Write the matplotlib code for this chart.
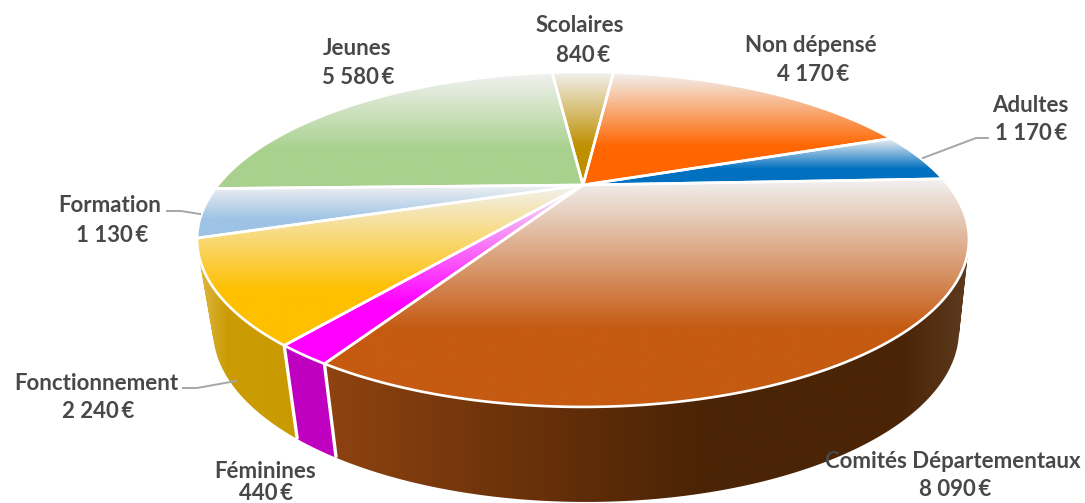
import numpy as np
import matplotlib
matplotlib.use("Agg")
import matplotlib.pyplot as plt
from matplotlib.path import Path
from matplotlib.patches import PathPatch
from matplotlib.colors import LinearSegmentedColormap, to_rgb

# ---- data (clockwise from the right-hand edge of the pie) ----
categories = ["Comités Départementaux", "Féminines", "Fonctionnement", "Formation",
              "Jeunes", "Scolaires", "Non dépensé", "Adultes"]
values = [8090, 440, 2240, 1130, 5580, 840, 4170, 1170]
colors = ["#C55A11", "#FF00FF", "#FFC000", "#9DC3E6",
          "#A9D18E", "#BF9000", "#FF6600", "#0070C0"]

# ---- wall shading, horizontal stops (x pixel, colour), None = wall hidden ----
wall_stops = [
    [(325, "#8F4310"), (600, "#5C2B08"), (700, "#4B2406"), (900, "#4B2406"), (970, "#5E3C20")],
    [(285, "#C000C0"), (340, "#C000C0")],
    [(197, "#E0BC50"), (228, "#CC9C05"), (300, "#C99A00")],
    None, None, None, None, None,
]

# ---- label placement: name centre, value centre (px) ----
name_xy = [(953, 461), (265, 472), (96, 383), (110, 206), (357, 48), (580, 25), (811, 45), (1030, 105)]
value_xy = [(955, 489), (266, 494), (98, 412), (112, 235), (358, 77), (583, 55), (813, 74), (1031, 134)]
leaders = {
    "Adultes": [(923, 158), (976, 138), (988, 138)],
    "Formation": [(167, 211), (181, 211), (200, 214)],
    "Fonctionnement": [(183, 388), (197, 388), (236, 381)],
}

# ---- projection of the disc ----
CX, CY = 583.0, 185.0
A, B, K = 365.0, 149.8, 0.325
START = 2.4
# top rim ellipse centre/radii -> bottom rim ellipse centre/radii
TOPC = (583.0, 238.0)
BOTC = (586.0, 329.0)
SX, SY = 373.0 / 386.0, 172.0 / 168.0


def top(theta):
    t = np.radians(theta)
    u, v = np.cos(t), np.sin(t)
    d = 1 + K * v
    return CX + A * u / d, CY - B * v / d


def bottom(theta):
    x, y = top(theta)
    return BOTC[0] + SX * (x - TOPC[0]), BOTC[1] + SY * (y - TOPC[1])


def gradient_image(ax, clip, cmap, extent, vertical=True):
    g = np.linspace(0, 1, 512)
    data = g[:, None] if vertical else g[None, :]
    im = ax.imshow(data, cmap=cmap, extent=extent, origin="upper", aspect="auto",
                   interpolation="bilinear", vmin=0, vmax=1, zorder=2)
    im.set_clip_path(clip)
    return im


def ramp(color):
    base = np.array(to_rgb(color))
    pale = np.array(to_rgb("#F2F2F2"))
    return LinearSegmentedColormap.from_list(
        "r", [(0, pale), (0.66, base), (1, base)], N=256)


fig = plt.figure(figsize=(10.85, 5.03), dpi=100, facecolor="white")
ax = fig.add_axes([0, 0, 1, 1])
ax.axis("off")

sweeps = np.array(values, dtype=float) / sum(values) * 360.0
ends = START - np.cumsum(sweeps)
starts = ends + sweeps

# walls
for th0, th1, stops in zip(starts, ends, wall_stops):
    if stops is None:
        continue
    ths = np.linspace(th0, th1, max(int(th0 - th1) * 2, 4))
    verts, codes = [], []
    for a, b in zip(ths[:-1], ths[1:]):
        q = np.array([top(a), top(b), bottom(b), bottom(a)])
        area = 0.5 * np.sum(q[:, 0] * np.roll(q[:, 1], -1) - np.roll(q[:, 0], -1) * q[:, 1])
        if area < 0:
            q = q[::-1]
        verts += list(map(tuple, q)) + [tuple(q[0])]
        codes += [Path.MOVETO, Path.LINETO, Path.LINETO, Path.LINETO, Path.CLOSEPOLY]
    path = Path(verts, codes)
    patch = PathPatch(path, fc="none", ec="none", transform=ax.transData)
    ax.add_patch(patch)
    x0, x1 = stops[0][0], stops[-1][0]
    cm = LinearSegmentedColormap.from_list(
        "w", [((x - x0) / (x1 - x0), c) for x, c in stops], N=256)
    gradient_image(ax, patch, cm, (x0 - 3, x1 + 3, 510, 170), vertical=False)

# white separators between visible walls
for th in ends[:2]:
    (xa, ya), (xb, yb) = top(th), bottom(th)
    ax.plot([xa, xb], [ya, yb], color="white", lw=2.4, zorder=3, solid_capstyle="butt")

# top faces
for th0, th1, col in zip(starts, ends, colors):
    ths = np.linspace(th0, th1, max(int(th0 - th1) * 2, 4))
    xs, ys = top(ths)
    verts = [(CX, CY)] + list(zip(xs, ys)) + [(CX, CY)]
    codes = [Path.MOVETO] + [Path.LINETO] * len(xs) + [Path.CLOSEPOLY]
    path = Path(verts, codes)
    patch = PathPatch(path, fc="none", ec="none", transform=ax.transData)
    ax.add_patch(patch)
    x_lo, x_hi = min(xs.min(), CX), max(xs.max(), CX)
    ymin, ymax = min(ys.min(), CY), max(ys.max(), CY)
    gradient_image(ax, patch, ramp(col), (x_lo - 2, x_hi + 2, ymax, ymin)).set_zorder(4)
    ax.add_patch(PathPatch(path, fc="none", ec="white", lw=1.9, joinstyle="round", zorder=5))

# leader lines
for pts in leaders.values():
    px, py = zip(*pts)
    ax.plot(px, py, color="#A6A6A6", lw=1.4, zorder=6, solid_joinstyle="round")


def euros(v):
    return f"{v:,}".replace(",", " ") + "\u2009€"


# labels
for name, val, nxy, vxy in zip(categories, values, name_xy, value_xy):
    kw = dict(ha="center", va="center", color="#484848", fontsize=16,
              fontweight="bold", family=["Lato", "DejaVu Sans"], zorder=7)
    ax.text(*nxy, name, **kw)
    ax.text(*vxy, euros(val), **kw)

ax.set_xlim(0, 1085)
ax.set_ylim(503, 0)
fig.savefig("out.png", dpi=100, facecolor="white")
